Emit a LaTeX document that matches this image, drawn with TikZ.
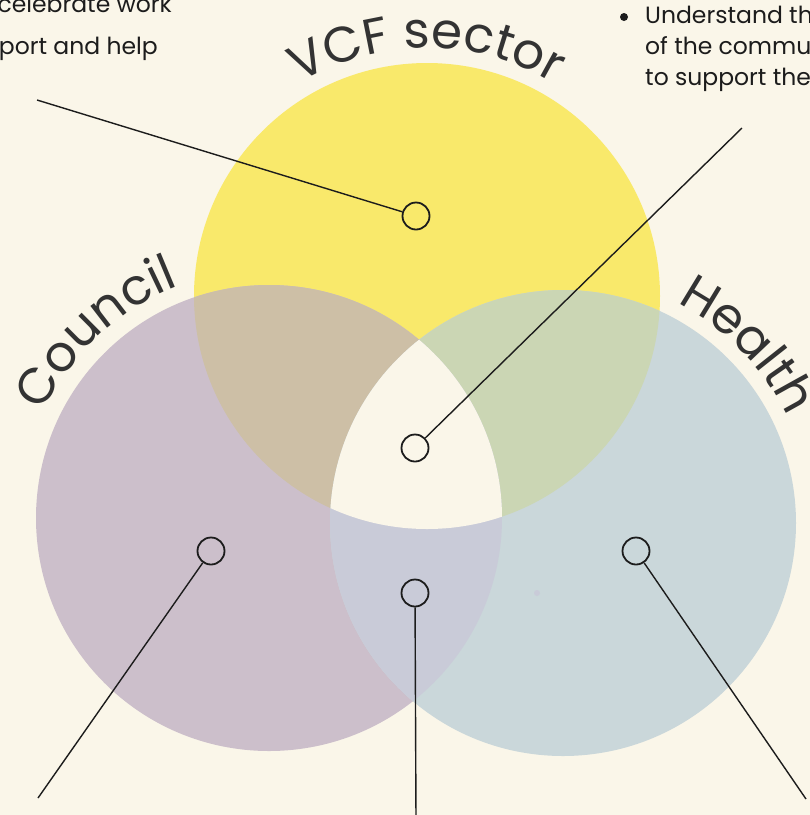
\documentclass[tikz,border=0pt]{standalone}
\usepackage{fontspec}
\setmainfont{Poppins}
\usetikzlibrary{decorations.text}

\definecolor{paper}{HTML}{FAF6E9}
\definecolor{vcfcol}{HTML}{F9E96B}
\definecolor{councilcol}{HTML}{CCBFCB}
\definecolor{healthcol}{HTML}{CAD7DA}
\definecolor{vcfcouncil}{HTML}{CDBFA6}
\definecolor{vcfhealth}{HTML}{CBD6B4}
\definecolor{councilhealth}{HTML}{C9CBD8}
\definecolor{labelgray}{HTML}{333333}
\definecolor{ink}{HTML}{1C1C1C}

\newcommand{\bigfont}{\fontsize{50}{60}\selectfont}

\tikzset{
  marker/.style={circle, draw=ink, line width=1.8pt, minimum size=27pt, inner sep=0pt},
  leader/.style={draw=ink, line width=1.4pt},
  bodytext/.style={font=\fontsize{23.5}{31}\selectfont, text=ink, inner sep=0pt},
  arclabel/.style={decorate, decoration={text along path, text align=center, text={|\bigfont\color{labelgray}|#1}}}
}

\begin{document}
\begin{tikzpicture}[x=1pt, y=1pt]
  \useasboundingbox (0,0) rectangle (810,-815);
  \clip (0,0) rectangle (810,-815);
  \fill[paper] (0,0) rectangle (810,-815);

  % circle centres and common radius
  \coordinate (cv) at (427,-296);
  \coordinate (cc) at (269,-518);
  \coordinate (ch) at (563,-523);
  \def\R{233}

  % the three sets
  \fill[vcfcol] (cv) circle[radius=\R];
  \fill[councilcol] (cc) circle[radius=\R];
  \fill[healthcol] (ch) circle[radius=\R];

  % pairwise overlaps
  \begin{scope}
    \clip (cv) circle[radius=\R];
    \fill[vcfcouncil] (cc) circle[radius=\R];
  \end{scope}
  \begin{scope}
    \clip (cv) circle[radius=\R];
    \fill[vcfhealth] (ch) circle[radius=\R];
  \end{scope}
  \begin{scope}
    \clip (cc) circle[radius=\R];
    \fill[councilhealth] (ch) circle[radius=\R];
  \end{scope}
  % common centre left light
  \begin{scope}
    \clip (cv) circle[radius=\R];
    \clip (cc) circle[radius=\R];
    \fill[paper] (ch) circle[radius=\R];
  \end{scope}

  \fill[councilhealth] (537,-593) circle[radius=3];

  % curved set names
  \path[arclabel={VCF sector}] ([shift={(427,-296)}]150:248) arc[start angle=150, end angle=30, radius=248];
  \path[arclabel={Council}] ([shift={(269,-518)}]178:249) arc[start angle=178, end angle=88, radius=249];
  \path[arclabel={Health}] ([shift={(563,-523)}]89:248) arc[start angle=89, end angle=-1, radius=248];

  % bullet text
  \node[bodytext, anchor=base east] (tl1) at (172,-12) {celebrate work};
  \node[bodytext, anchor=base east] (tl2) at (158,-54) {port and help};
  \fill[ink] (624,-17) circle[radius=4];
  \node[bodytext, anchor=base west] (tr1) at (645,-23) {Understand th};
  \node[bodytext, anchor=base west] (tr2) at (645,-54) {of the commun};
  \node[bodytext, anchor=base west] (tr3) at (645,-85) {to support the};

  % markers
  \node[marker] (mv) at (416,-216) {};
  \node[marker] (mall) at (415,-448) {};
  \node[marker] (mc) at (211,-551) {};
  \node[marker] (mch) at (415,-593) {};
  \node[marker] (mh) at (636,-551) {};

  % leader ends
  \coordinate (ev) at (37,-100);
  \coordinate (eall) at (742,-128);
  \coordinate (ec) at (38,-798);
  \coordinate (ech) at (416,-820);
  \coordinate (eh) at (806,-799);

  \draw[leader] (ev) -- (mv);
  \draw[leader] (eall) -- (mall);
  \draw[leader] (ec) -- (mc);
  \draw[leader] (ech) -- (mch);
  \draw[leader] (eh) -- (mh);
\end{tikzpicture}
\end{document}
